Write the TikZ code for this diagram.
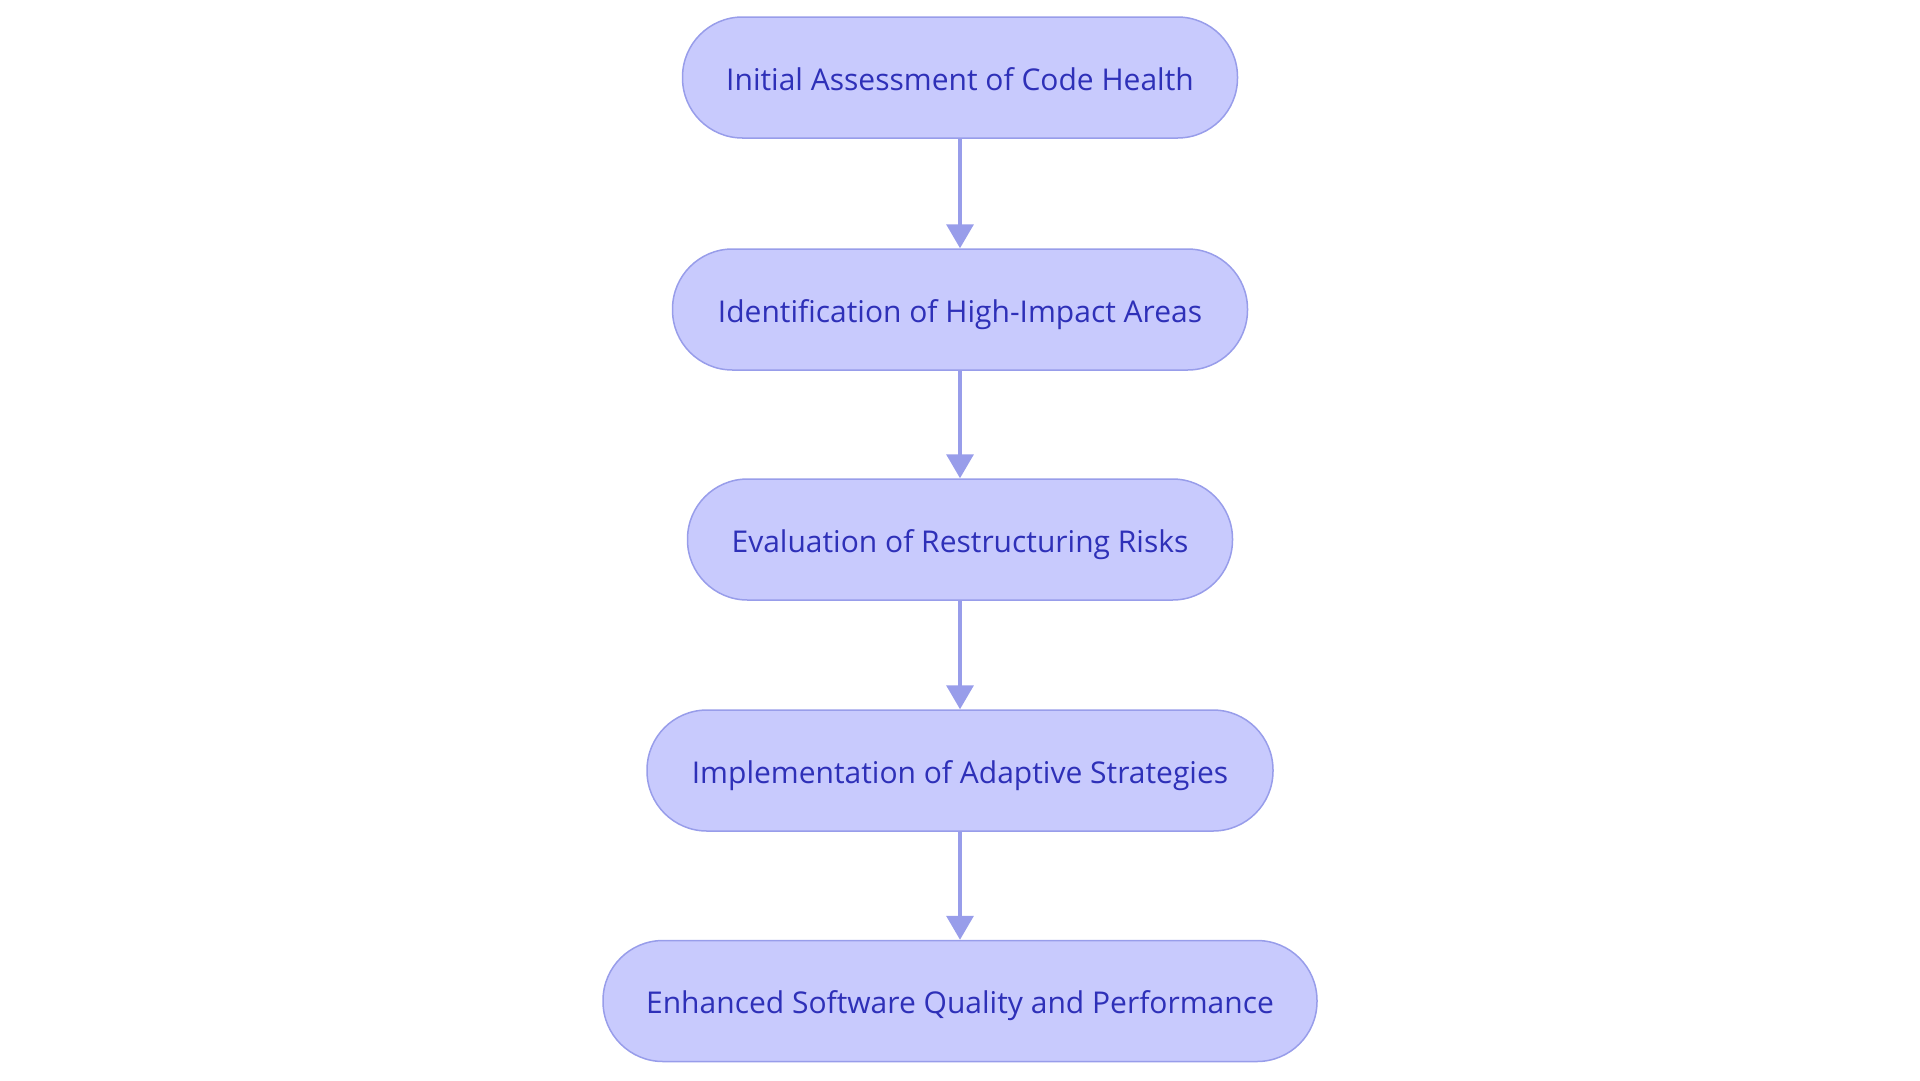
\documentclass[tikz,border=0pt]{standalone}
\usepackage{fontspec}
\setmainfont{Open Sans}
\usetikzlibrary{arrows.meta}
\definecolor{boxfill}{HTML}{C8CAFD}
\definecolor{boxline}{HTML}{989DEA}
\definecolor{boxtext}{HTML}{2E30B8}
\definecolor{arrowc}{HTML}{989DEA}
\tikzset{
  stepbox/.style={draw=boxline, fill=boxfill, line width=1.5pt, rounded corners=60pt,
    minimum height=121pt, text=boxtext, font=\fontsize{30}{34}\selectfont, inner sep=0pt,
    text height=25pt, text depth=0pt},
  flowarrow/.style={draw=arrowc, line width=3.5pt, -{Triangle[width=27pt,length=24pt]}, shorten >=0pt}
}
\begin{document}
\begin{tikzpicture}[x=1pt,y=-1pt]
\useasboundingbox (0,0) rectangle (1920,1080);
\node[stepbox, minimum width=555pt] (n1) at (960,77.5) {Initial Assessment of Code Health};
\node[stepbox, minimum width=575pt] (n2) at (960,309.5) {Identification of High-Impact Areas};
\node[stepbox, minimum width=545pt] (n3) at (960,539.5) {Evaluation of Restructuring Risks};
\node[stepbox, minimum width=626pt] (n4) at (960,770.5) {Implementation of Adaptive Strategies};
\node[stepbox, minimum width=714pt] (n5) at (960,1001) {Enhanced Software Quality and Performance};
\draw[flowarrow] (n1) -- (n2);
\draw[flowarrow] (n2) -- (n3);
\draw[flowarrow] (n3) -- (n4);
\draw[flowarrow] (n4) -- (n5);
\end{tikzpicture}
\end{document}
